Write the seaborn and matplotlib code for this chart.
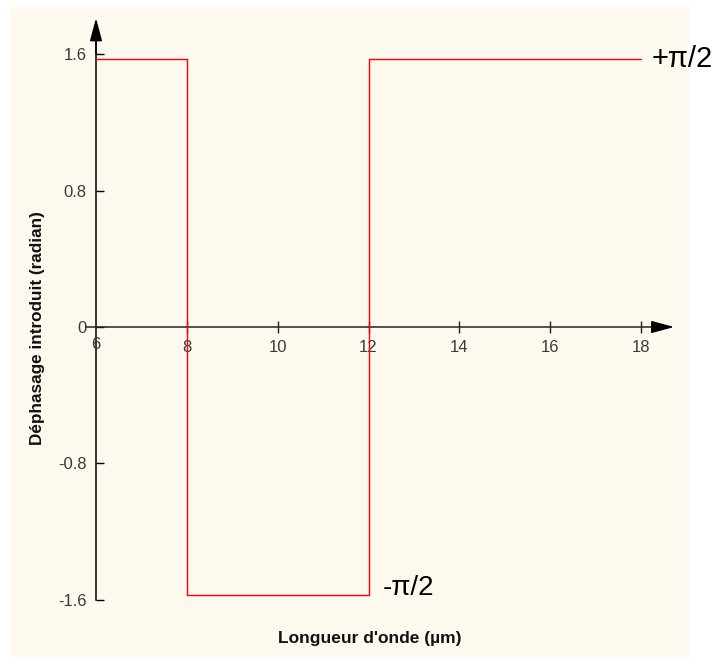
import numpy as np
import matplotlib
matplotlib.use("Agg")
import matplotlib.pyplot as plt
import seaborn as sns
import pandas as pd
from matplotlib.patches import Rectangle

# Data
wavelength = [6, 8, 12, 18]
phase = [np.pi / 2, -np.pi / 2, np.pi / 2, np.pi / 2]
xticks = [8, 10, 12, 14, 16, 18]
yticks = [-1.6, -0.8, 0, 0.8, 1.6]
ytick_labels = ["-1.6", "-0.8", "0", "0.8", "1.6"]

sns.set_style("ticks")
plt.rcParams["font.family"] = ["Liberation Sans", "DejaVu Sans"]

W, H = 717, 657
fig = plt.figure(figsize=(W / 100, H / 100), dpi=100)
fig.patch.set_facecolor("white")

# cream panel
fig.patches.append(Rectangle((11 / W, 0), (690 - 11) / W, (657 - 7) / H,
                             transform=fig.transFigure, facecolor="#FDF9EE",
                             edgecolor="none", zorder=-10))

# axes geometry (pixel mapping)
pxu = (641 - 96) / 12.0
x0_px = 96
xlim = (4.0, 19.5)
left_px = x0_px + (xlim[0] - 6) * pxu
right_px = x0_px + (xlim[1] - 6) * pxu
pyu = 170.6
y0_px = 327
ylim = (-1.85, 1.9)
top_px = y0_px - ylim[1] * pyu
bot_px = y0_px - ylim[0] * pyu
ax = fig.add_axes([left_px / W, 1 - bot_px / H, (right_px - left_px) / W, (bot_px - top_px) / H])
ax.set_facecolor("none")

df = pd.DataFrame({"x": wavelength, "y": phase})
sns.lineplot(data=df, x="x", y="y", ax=ax, color="#FF0000", lw=1.0,
             drawstyle="steps-post", sort=False, zorder=3)

ax.set_xlim(*xlim)
ax.set_ylim(*ylim)

for s in ["top", "right"]:
    ax.spines[s].set_visible(False)
ax.spines["left"].set_position(("data", 6))
ax.spines["bottom"].set_position(("data", 0))
ax.spines["left"].set_bounds(-1.6, 1.7)
ax.spines["bottom"].set_bounds(5.78, 18.5)
ax.spines["left"].set_linewidth(1.1)
ax.spines["bottom"].set_linewidth(1.1)
ax.spines["left"].set_color("black")
ax.spines["bottom"].set_color("#222222")

ax.set_xticks(xticks)
ax.set_xticklabels([str(t) for t in xticks])
ax.set_yticks(yticks)
ax.set_yticklabels(ytick_labels)
ax.tick_params(axis="y", direction="in", length=6, width=1, pad=7,
               labelsize=12, labelcolor="#3a3a3a", color="black")
ax.tick_params(axis="x", direction="inout", length=8, width=1, pad=5,
               labelsize=12, labelcolor="#3a3a3a", color="#222222")
# tick label "6" under the origin
ax.text(6, -0.06, "6", ha="center", va="top", fontsize=12, color="#3a3a3a")

# arrow heads
ax.annotate("", xy=(6, 1.81), xytext=(6, 1.6),
            arrowprops=dict(arrowstyle="-|>,head_length=1.0,head_width=0.27",
                            mutation_scale=14, color="black", lw=1.1,
                            shrinkA=0, shrinkB=0))
ax.annotate("", xy=(18.73, 0), xytext=(18.4, 0),
            arrowprops=dict(arrowstyle="-|>,head_length=1.0,head_width=0.27",
                            mutation_scale=14, color="black", lw=1.1,
                            shrinkA=0, shrinkB=0))

ax.set_xlabel("")
ax.set_ylabel("")
fig.text(370 / W, 1 - 638 / H, "Longueur d'onde (µm)", ha="center", va="center",
         fontsize=12.5, fontweight="bold", color="#111111")
fig.text(38 / W, 1 - 328 / H, "Déphasage introduit (radian)", ha="center", va="center",
         rotation=90, fontsize=12.3, fontweight="bold", color="#111111")

ax.text(18.24, np.pi / 2, "+π/2", ha="left", va="center", fontsize=21, color="black")
ax.text(12.32, -1.53, "-π/2", ha="left", va="center", fontsize=20, color="black")

fig.savefig("out.png", dpi=100, facecolor="white")
